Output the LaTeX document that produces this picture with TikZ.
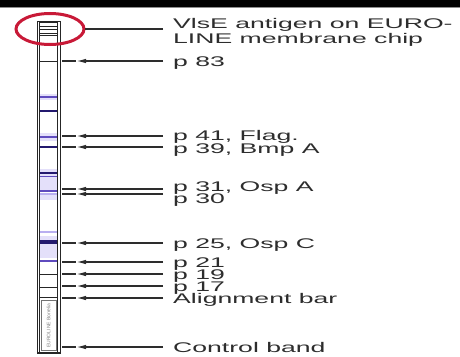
\documentclass[tikz,border=0pt]{standalone}
\usepackage{fontspec}
\setmainfont{Liberation Sans}
\newfontfamily\lblfont[FakeStretch=1.9]{Liberation Sans}
\usetikzlibrary{arrows.meta}

\definecolor{inkgray}{RGB}{45,45,45}
\definecolor{ringred}{RGB}{200,25,55}
\definecolor{banddark}{RGB}{35,25,110}
\definecolor{bandmid}{RGB}{95,75,190}
\definecolor{bandlight}{RGB}{185,175,240}
\definecolor{bandhaze}{RGB}{228,224,250}

\tikzset{
  lbl/.style={anchor=base west, inner sep=0pt, text=inkgray,
              font=\lblfont\fontsize{14}{16}\selectfont},
  conn/.style={draw=inkgray, line width=1.4pt},
  tip/.style={conn, -{Latex[length=10pt,width=4.5pt]}},
  edge/.style={draw=black!85, line width=1pt},
  thinband/.style={draw=black!85, line width=0.8pt},
}

\begin{document}
\begin{tikzpicture}[x=1pt, y=-1pt]
\useasboundingbox (0,0) rectangle (460,356);

% black rule across the top
\fill[black] (0,0) rectangle (460,6.5);
\fill[black!45] (0,6.5) rectangle (460,7.5);

% soft lavender haze behind the antigen bands
\foreach \ya/\yb in {94/100, 133/141, 169/190, 195/200, 236/258}
  \fill[bandhaze] (39.5,\ya) rectangle (57.5,\yb);

% thin black marker lines at the strip top and lower markers
\foreach \yy in {22.5, 26, 29.5, 33, 35.5, 61, 274, 287, 297}
  \draw[thinband] (39.5,\yy) -- (57.5,\yy);

% antigen bands: y position / thickness / colour
\foreach \yy/\w/\c in {97/1.6/bandmid, 111/1.8/banddark, 137/2/bandmid,
                       147/2.6/banddark, 173/2/banddark, 176.5/1.4/bandmid,
                       191/2.6/bandmid, 194/1.2/bandlight, 232/1.2/bandlight,
                       242/4/banddark, 261/2.4/bandmid}
  \draw[draw=\c, line width=\w pt] (39.5,\yy) -- (57.5,\yy);

% control field with its printed strip code
\node[draw=black!55, line width=0.6pt, minimum width=15pt, minimum height=50pt,
      inner sep=0pt] (ctrl) at (48.5,325.5) {};
\node[rotate=90, text=black!50, font=\fontsize{5}{5}\selectfont, inner sep=0pt]
      (code) at (ctrl.center) {EUROLINE Borrelia};

% strip outline with doubled side edges
\node[draw=black!85, line width=1pt, minimum width=23pt, minimum height=332pt,
      inner sep=0pt] (strip) at (48.5,187) {};
\draw[edge] (39.5,21) -- (39.5,353);
\draw[edge] (57.5,21) -- (57.5,353);
\draw[line width=1.6pt, black!85] (37,352.5) -- (60,352.5);

% red ring around the VlsE zone
\draw[ringred, line width=3pt] (50,29) ellipse [x radius=34, y radius=15.5];
\coordinate (ringE) at (84.5,29);

% labels
\node[lbl] (vlse) at (173,28.5) {VlsE antigen on EURO-};
\node[lbl] (vlse2) at (173,43.5) {LINE membrane chip};
\coordinate (vlseE) at (163,29);
\draw[conn] (vlseE) -- (ringE);

\foreach \yy/\bb/\txt [count=\i] in {
    61/66/{p 83},
    136/140/{p 41, Flag.},
    147/153/{p 39, Bmp A},
    189/191/{p 31, Osp A},
    194/203/{p 30},
    243/248/{p 25, Osp C},
    262/267/{p 21},
    274/279/{p 19},
    286/291/{p 17},
    298/303.5/{Alignment bar},
    347/352/{Control band}} {
  \node[lbl] (lab\i) at (173,\bb) {\txt};
  \coordinate (end\i) at (163,\yy);
  \coordinate (head\i) at (76,\yy);
  \coordinate (foot\i) at (61.5,\yy);
  \draw[tip] (end\i) -- (head\i);
  \draw[conn] (head\i) -- (foot\i);
}
\end{tikzpicture}
\end{document}
